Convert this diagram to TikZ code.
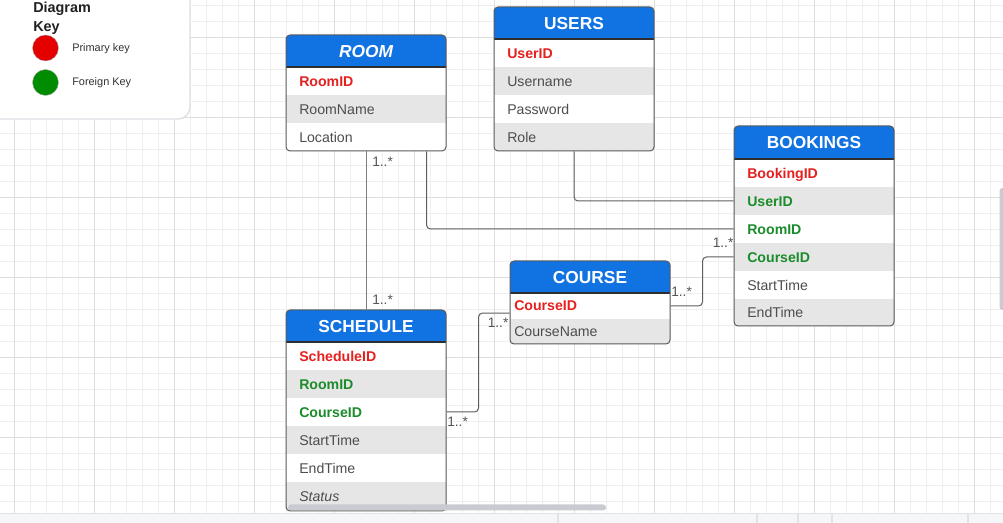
\documentclass[tikz,border=0pt]{standalone}
\usepackage{fontspec}
\setmainfont{Liberation Sans}
\usetikzlibrary{fit,calc}
\definecolor{hdrblue}{HTML}{1172E2}
\definecolor{pkred}{HTML}{E5201F}
\definecolor{fkgreen}{HTML}{1B8C2B}
\definecolor{attrgray}{HTML}{4D4D4D}
\definecolor{rowgray}{HTML}{E6E6E6}
\definecolor{tblborder}{HTML}{5A5A5A}
\definecolor{hdrlinecol}{HTML}{2E2E2E}
\definecolor{conncol}{HTML}{5E5E5E}
\definecolor{multcol}{HTML}{555555}
\definecolor{gridminor}{HTML}{EFEFEF}
\definecolor{gridmajor}{HTML}{DEDEDE}
\definecolor{legendborder}{HTML}{DDE0E4}
\definecolor{barfill}{HTML}{F5F6F8}
\definecolor{barline}{HTML}{E1E3E7}
\definecolor{scrollcol}{HTML}{C9CBD0}
\tikzset{
  tblframe/.style={draw=tblborder, line width=0.75pt, rounded corners=3pt, inner sep=0pt},
  hdrline/.style={draw=hdrlinecol, line width=0.9pt},
  rowtxt/.style={anchor=west, inner sep=0pt, text height=7.6pt, text depth=0pt},
  pk/.style={rowtxt, text=pkred, font=\fontsize{10.6}{12}\selectfont\bfseries},
  fk/.style={rowtxt, text=fkgreen, font=\fontsize{10.6}{12}\selectfont\bfseries},
  attr/.style={rowtxt, text=attrgray, font=\fontsize{10.6}{12}\selectfont},
  tbltitle/.style={inner sep=0pt, text height=9.3pt, text depth=0pt, text=white, font=\fontsize{13}{15}\selectfont\bfseries},
  conn/.style={draw=conncol, line width=0.75pt, rounded corners=3pt},
  mult/.style={anchor=west, inner sep=0pt, text height=7.4pt, text depth=0pt, text=multcol, font=\fontsize{10.3}{12}\selectfont},
  legtitle/.style={anchor=base west, inner sep=0pt, text=black!87, font=\fontsize{10.8}{13}\selectfont\bfseries},
  legtxt/.style={anchor=west, inner sep=0pt, text height=6pt, text depth=0pt, text=black!80, font=\fontsize{8.2}{10}\selectfont},
}
\begin{document}
\begin{tikzpicture}[x=0.75pt, y=-0.75pt]
\useasboundingbox (0,0) rectangle (1003,523);
\fill[white] (0,0) rectangle (1003,523);
% grid
\foreach \gx in {-1.3,14.7,...,1003} \draw[gridminor, line width=0.75pt] (\gx,0) -- (\gx,523);
\foreach \gy in {6,22,...,523} \draw[gridminor, line width=0.75pt] (0,\gy) -- (1003,\gy);
\foreach \gx in {14.7,94.7,...,1003} \draw[gridmajor, line width=0.75pt] (\gx,0) -- (\gx,523);
\foreach \gy in {38,118,...,523} \draw[gridmajor, line width=0.75pt] (0,\gy) -- (1003,\gy);

% legend
\draw[fill=white, draw=legendborder, line width=1pt, rounded corners=9pt] (-20,-20) rectangle (190,119);
\node[legtitle] (legd) at (33,12.7) {Diagram};
\node[legtitle] (legk) at (33,31.7) {Key};
\node[circle, fill=red!90!black, draw=gray!60, line width=0.3pt, minimum size=19.5pt, inner sep=0pt] (pkdot) at (45.5,48) {};
\node[circle, fill=green!55!black, draw=gray!60, line width=0.3pt, minimum size=19.5pt, inner sep=0pt] (fkdot) at (45.5,82.5) {};
\node[legtxt] (pklab) at (72,47.5) {Primary key};
\node[legtxt] (fklab) at (72,82) {Foreign Key};

% ROOM
\begin{scope}
\clip[rounded corners=3pt] (286,35) rectangle (446,151);
\fill[white] (286,35) rectangle (446,151);
\fill[hdrblue] (286,35) rectangle (446,67);
\fill[rowgray] (286,95) rectangle (446,123);
\end{scope}
\draw[hdrline] (286,67) -- (446,67);
\node[tblframe, fit={(286,35) (446,151)}] (room) {};
\node[tbltitle] (room-t) at (366,51) {\itshape ROOM};
\node[pk] (r-id) at (299,81) {RoomID};
\node[attr] (r-name) at (299,109) {RoomName};
\node[attr] (r-loc) at (299,137) {Location};

% USERS
\begin{scope}
\clip[rounded corners=3pt] (494,7) rectangle (654,151);
\fill[white] (494,7) rectangle (654,151);
\fill[hdrblue] (494,7) rectangle (654,39);
\fill[rowgray] (494,67) rectangle (654,95);
\fill[rowgray] (494,123) rectangle (654,151);
\end{scope}
\draw[hdrline] (494,39) -- (654,39);
\node[tblframe, fit={(494,7) (654,151)}] (users) {};
\node[tbltitle] (users-t) at (574,23) {USERS};
\node[pk] (u-id) at (507,53) {UserID};
\node[attr] (u-name) at (507,81) {Username};
\node[attr] (u-pw) at (507,109) {Password};
\node[attr] (u-role) at (507,137) {Role};

% BOOKINGS
\begin{scope}
\clip[rounded corners=3pt] (734,126) rectangle (894,326);
\fill[white] (734,126) rectangle (894,326);
\fill[hdrblue] (734,126) rectangle (894,159);
\fill[rowgray] (734,187) rectangle (894,215);
\fill[rowgray] (734,243) rectangle (894,271);
\fill[rowgray] (734,299) rectangle (894,326);
\end{scope}
\draw[hdrline] (734,159) -- (894,159);
\node[tblframe, fit={(734,126) (894,326)}] (bookings) {};
\node[tbltitle] (bookings-t) at (814,142) {BOOKINGS};
\node[pk] (b-id) at (747,173) {BookingID};
\node[fk] (b-user) at (747,201) {UserID};
\node[fk] (b-room) at (747,229) {RoomID};
\node[fk] (b-course) at (747,257) {CourseID};
\node[attr] (b-start) at (747,285) {StartTime};
\node[attr] (b-end) at (747,312.5) {EndTime};

% COURSE
\begin{scope}
\clip[rounded corners=3pt] (510,261) rectangle (670,344);
\fill[white] (510,261) rectangle (670,344);
\fill[hdrblue] (510,261) rectangle (670,293);
\fill[rowgray] (510,319) rectangle (670,344);
\end{scope}
\draw[hdrline] (510,293) -- (670,293);
\node[tblframe, fit={(510,261) (670,344)}] (course) {};
\node[tbltitle] (course-t) at (590,277) {COURSE};
\node[pk] (c-id) at (514,305) {CourseID};
\node[attr] (c-name) at (514,331) {CourseName};

% SCHEDULE
\begin{scope}
\clip[rounded corners=3pt] (286,310) rectangle (446,511);
\fill[white] (286,310) rectangle (446,511);
\fill[hdrblue] (286,310) rectangle (446,342);
\fill[rowgray] (286,370) rectangle (446,398);
\fill[rowgray] (286,426) rectangle (446,454);
\fill[rowgray] (286,482) rectangle (446,511);
\end{scope}
\draw[hdrline] (286,342) -- (446,342);
\node[tblframe, fit={(286,310) (446,511)}] (schedule) {};
\node[tbltitle] (schedule-t) at (366,326) {SCHEDULE};
\node[pk] (s-id) at (299,356) {ScheduleID};
\node[fk] (s-room) at (299,384) {RoomID};
\node[fk] (s-course) at (299,412) {CourseID};
\node[attr] (s-start) at (299,440) {StartTime};
\node[attr] (s-end) at (299,468) {EndTime};
\node[attr] (s-status) at (299,496) {\itshape Status};

% connectors
\draw[conn, draw=conncol!80] (room.south) -- (schedule.north);
\draw[conn] ([xshift=-15pt]room.south east) |- (b-room -| bookings.west);
\draw[conn] (users.south) |- (b-user -| bookings.west);
\draw[conn] ([yshift=-0.75pt]c-id -| course.east) -- ++(32,0) |- (b-course -| bookings.west);
\draw[conn] (s-course -| schedule.east) -- ++(32,0) |- ($(course.west)+(0,10.6)$);

% multiplicities
\node[mult] (m1) at (372,162) {1..*};
\node[mult] (m2) at (372,299.5) {1..*};
\node[mult] (m3) at (671,292) {1..*};
\node[mult] (m4) at (712.5,243) {1..*};
\node[mult] (m5) at (447,422) {1..*};
\node[mult] (m6) at (487.5,322.5) {1..*};

% UI scrollbars and bottom bar
\fill[scrollcol, rounded corners=2.2pt] (288,504.5) rectangle (606,510.5);
\fill[scrollcol, rounded corners=2.2pt] (999.5,188) rectangle (1006,310);
\fill[barfill] (0,513.3) rectangle (1003,523);
\draw[barline, line width=0.9pt] (0,513.3) -- (1003,513.3);
\foreach \dx in {558,757,798,832,968} \draw[barline, line width=0.9pt] (\dx,513.3) -- (\dx,523);
\end{tikzpicture}
\end{document}
